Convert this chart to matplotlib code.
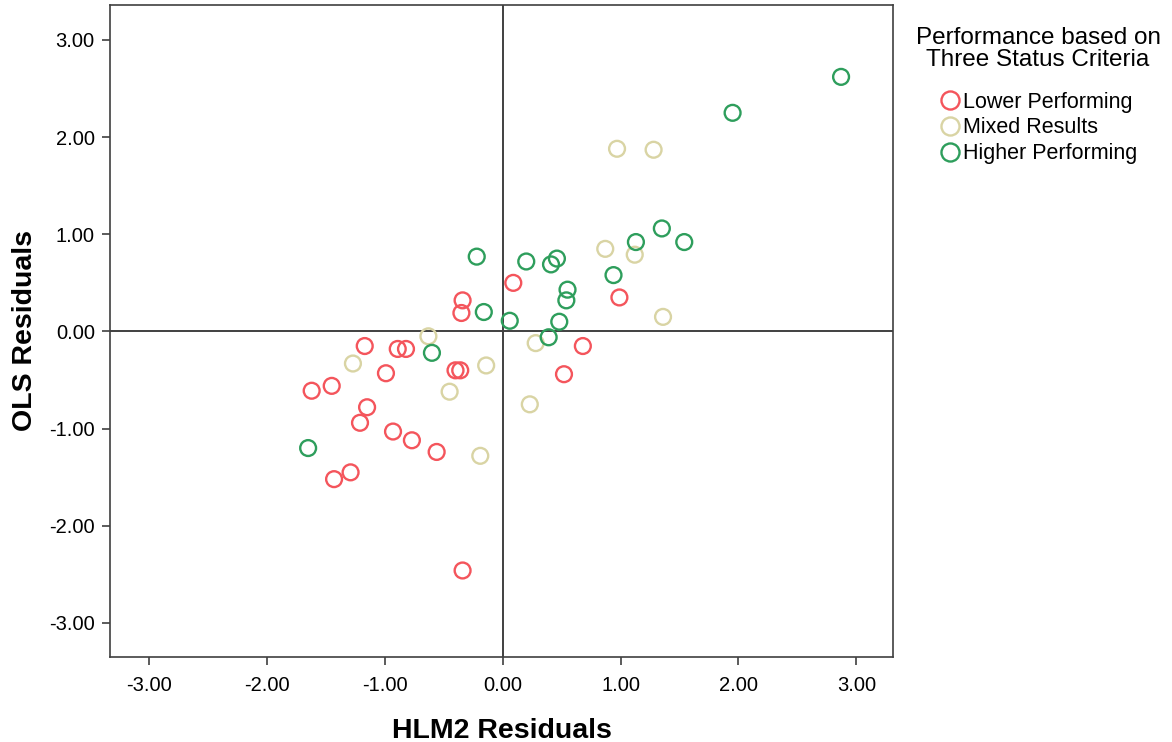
import matplotlib
matplotlib.use("Agg")
import matplotlib.pyplot as plt
from matplotlib.lines import Line2D

plt.rcParams['font.family'] = ['Liberation Sans', 'DejaVu Sans']

# Lower Performing
low_x = [-1.62, -1.45, -1.17, -0.89, -0.82, -0.99, -1.15, -1.21, -0.40, -0.36, -0.34,
         -0.35, 0.09, -0.93, -0.77, -0.56, -1.43, -1.29, -0.34, 0.99, 0.68, 0.52]
low_y = [-0.61, -0.56, -0.15, -0.18, -0.18, -0.43, -0.78, -0.94, -0.40, -0.40, 0.32,
         0.19, 0.50, -1.03, -1.12, -1.24, -1.52, -1.45, -2.46, 0.35, -0.15, -0.44]

# Mixed Results
mix_x = [-0.63, -1.27, -0.14, -0.45, -0.19, 0.28, 0.87, 1.12, 1.36, 0.23, 0.97, 1.28]
mix_y = [-0.05, -0.33, -0.35, -0.62, -1.28, -0.12, 0.85, 0.79, 0.15, -0.75, 1.88, 1.87]

# Higher Performing
high_x = [-0.22, -0.16, 0.06, -0.60, -1.65, 0.20, 0.46, 0.41, 0.55, 0.54, 0.48, 0.39,
          0.94, 1.13, 1.35, 1.54, 1.95, 2.87]
high_y = [0.77, 0.20, 0.11, -0.22, -1.20, 0.72, 0.75, 0.69, 0.43, 0.32, 0.10, -0.06,
          0.58, 0.92, 1.06, 0.92, 2.25, 2.62]

groups = ['Lower Performing', 'Mixed Results', 'Higher Performing']
colors = ['#f4555c', '#d9d4a4', '#2e9e5c']
ticks = [-3, -2, -1, 0, 1, 2, 3]

fig = plt.figure(figsize=(11.72, 7.42), dpi=100)
ax = fig.add_axes([0.0939, 0.1146, 0.668, 0.8787])

ax.axvline(0, color='#404040', lw=1.4, zorder=1)
ax.axhline(0, color='#404040', lw=1.4, zorder=1)

for xs, ys, c in zip([low_x, mix_x, high_x], [low_y, mix_y, high_y], colors):
    ax.scatter(xs, ys, s=130, facecolors='none', edgecolors=c, linewidths=1.7, zorder=2)

ax.set_xlim(-3.33, 3.31)
ax.set_ylim(-3.35, 3.36)
ax.set_xticks(ticks)
ax.set_yticks(ticks)
ax.set_xticklabels([f'{t:.2f}' for t in ticks])
ax.set_yticklabels([f'{t:.2f}' for t in ticks])
ax.tick_params(length=6, width=1.2, color='#404040', labelsize=14.5, pad=5)
ax.tick_params(axis='x', pad=8)
for s in ax.spines.values():
    s.set_color('#404040')
    s.set_linewidth(1.2)

ax.set_xlabel('HLM2 Residuals', fontsize=20.5, fontweight='bold', labelpad=16)
ax.set_ylabel('OLS Residuals', fontsize=20.5, fontweight='bold', labelpad=8)

# legend title drawn as centred two-line text
fig.text(1038 / 1172, 1 - 49 / 742, 'Performance based on\nThree Status Criteria',
         ha='center', va='center', fontsize=17.5, linespacing=1.0, multialignment='center')

handles = [Line2D([], [], marker='o', ls='none', markersize=13, markerfacecolor='none',
                  markeredgecolor=c, markeredgewidth=1.7) for c in colors]
fig.legend(handles, groups, loc='upper left', bbox_to_anchor=(931 / 1172, 1 - 83 / 742),
           frameon=False, fontsize=15.5, handlelength=1.0, handletextpad=0.1,
           labelspacing=0.22, borderaxespad=0)

fig.savefig('out.png', dpi=100)
